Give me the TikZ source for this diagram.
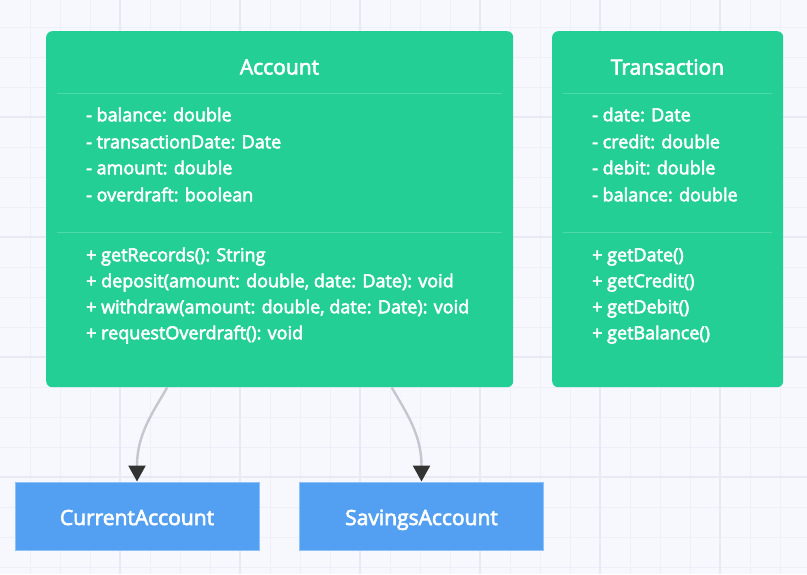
\documentclass[tikz,border=0pt]{standalone}
\usepackage{fontspec}
\setmainfont{Open Sans}[FakeBold=3]
\usetikzlibrary{arrows.meta}
\definecolor{bgcol}{HTML}{F7F8FD}
\definecolor{gridminor}{HTML}{EEF0F9}
\definecolor{gridmajor}{HTML}{E7E9F5}
\definecolor{accgreen}{HTML}{24CF96}
\definecolor{sepgreen}{HTML}{4ED9A9}
\definecolor{subblue}{HTML}{539FF1}
\definecolor{subedge}{HTML}{8EC2F8}
\definecolor{linkgray}{HTML}{C4C7CF}
\definecolor{tipdark}{HTML}{333333}

\begin{document}
\begin{tikzpicture}[x=1pt,y=-1pt,
		classbox/.style={fill=accgreen, rounded corners=6pt, anchor=north west, inner sep=0pt},
		subbox/.style={fill=subblue, draw=subedge, line width=1pt, minimum width=244pt, minimum height=68pt, text=white, text height=18pt, text depth=0pt, font=\fontsize{21}{25}\selectfont},
		title/.style={text=white, font=\fontsize{21}{25}\selectfont},
		member/.style={anchor=west, text=white, inner sep=0pt, text height=13.5pt, text depth=3pt, font=\fontsize{18}{21}\selectfont},
		sep/.style={sepgreen, line width=1pt},
		link/.style={linkgray, line width=2.4pt, -{Triangle[length=16pt, width=17pt, color=tipdark]}}]
		\useasboundingbox (0,0) rectangle (807,574);
		\fill[bgcol] (0,0) rectangle (807,574);
		\foreach \gx in {30,60,...,800} \draw[gridminor, line width=1pt] (\gx,0) -- (\gx,574);
		\foreach \gy in {27,57,...,574} \draw[gridminor, line width=1pt] (0,\gy) -- (807,\gy);
		\foreach \gx in {120,240,...,720} \draw[gridmajor, line width=2pt] (\gx,0) -- (\gx,574);
		\foreach \gy in {117,237,357,477} \draw[gridmajor, line width=2pt] (0,\gy) -- (807,\gy);

		\node[classbox, minimum width=467pt, minimum height=356pt] (account) at (46,31) {};
		\node[title] (accTitle) at (279.5,67) {Account};
		\draw[sep] (57,93) -- (502,93);
		\node[member] (accA1) at (86,116) {- balance: double};
		\node[member] (accA2) at (86,143) {- transactionDate: Date};
		\node[member] (accA3) at (86,169) {- amount: double};
		\node[member] (accA4) at (86,196) {- overdraft: boolean};
		\draw[sep] (57,232) -- (502,232);
		\node[member] (accM1) at (86,256) {+ getRecords(): String};
		\node[member] (accM2) at (86,282) {+ deposit(amount: double, date: Date): void};
		\node[member] (accM3) at (86,308) {+ withdraw(amount: double, date: Date): void};
		\node[member] (accM4) at (86,334) {+ requestOverdraft(): void};

		\node[classbox, minimum width=231pt, minimum height=356pt] (transaction) at (552,31) {};
		\node[title] (trTitle) at (667.5,67) {Transaction};
		\draw[sep] (563,93) -- (772,93);
		\node[member] (trA1) at (592,116) {- date: Date};
		\node[member] (trA2) at (592,143) {- credit: double};
		\node[member] (trA3) at (592,169) {- debit: double};
		\node[member] (trA4) at (592,196) {- balance: double};
		\draw[sep] (563,232) -- (772,232);
		\node[member] (trM1) at (592,256) {+ getDate()};
		\node[member] (trM2) at (592,282) {+ getCredit()};
		\node[member] (trM3) at (592,308) {+ getDebit()};
		\node[member] (trM4) at (592,334) {+ getBalance()};

		\node[subbox] (current) at (137,516) {CurrentAccount};
		\node[subbox] (savings) at (421.5,516) {SavingsAccount};

		\draw[link] ([xshift=-112.5pt]account.south) .. controls +(-15,26) and +(0,-47) .. (current.north);
		\draw[link] ([xshift=112pt]account.south) .. controls +(15,26) and +(0,-47) .. (savings.north);
	\end{tikzpicture}
\end{document}
